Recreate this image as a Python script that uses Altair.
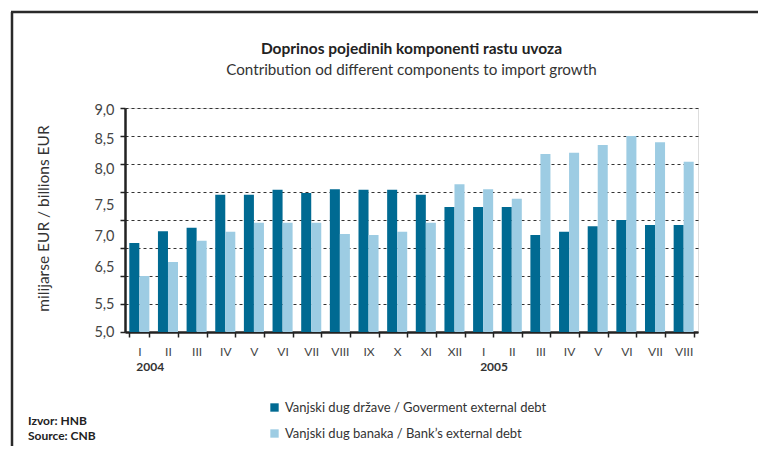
import altair as alt
import pandas as pd

months = ["I", "II", "III", "IV", "V", "VI", "VII", "VIII", "IX", "X", "XI", "XII",
          "I", "II", "III", "IV", "V", "VI", "VII", "VIII"]
years = [2004] * 12 + [2005] * 8
gov = [6.59, 6.80, 6.86, 7.45, 7.45, 7.54, 7.48, 7.55, 7.54, 7.54, 7.45, 7.23,
       7.23, 7.23, 6.73, 6.79, 6.89, 7.00, 6.91, 6.91]
bank = [6.00, 6.25, 6.63, 6.79, 6.95, 6.95, 6.95, 6.75, 6.73, 6.79, 6.95, 7.64,
        7.55, 7.38, 8.18, 8.20, 8.34, 8.50, 8.39, 8.04]
series = ["Vanjski dug države / Goverment external debt",
          "Vanjski dug banaka / Bank\u2019s external debt"]
colors = ["#006a92", "#9dcce3"]
y_ticks = [5.0, 5.5, 6.0, 6.5, 7.0, 7.5, 8.0, 8.5, 9.0]
year_labels = ["2004", "2005"]

cats = [f"{y}-{m}" for y, m in zip(years, months)]
rows = []
for i, c in enumerate(cats):
    rows.append({"cat": c, "series": series[0], "order": 0, "value": gov[i]})
    rows.append({"cat": c, "series": series[1], "order": 1, "value": bank[i]})
df = pd.DataFrame(rows)

FONT = "Lato"
W, H = 573, 224

x_enc = alt.X("cat:N", sort=cats, title=None,
              scale=alt.Scale(paddingInner=0.3, paddingOuter=0.15),
              axis=alt.Axis(labelExpr="split(datum.value, '-')[1]", labelAngle=0,
                            tickBand="extent", tickSize=5, tickColor="#222", tickWidth=1.5,
                            domainColor="#222", domainWidth=2.5, labelPadding=9,
                            labelFont=FONT, labelFontSize=12, labelColor="#444",
                            grid=False))

label_offset = {
    "condition": [
        {"test": "datum.value == 9", "value": 2},
        {"test": "datum.value == 8.5", "value": 3},
        {"test": "datum.value == 8", "value": 5},
        {"test": "datum.value == 7.5", "value": 13},
        {"test": "datum.value == 7", "value": 16},
        {"test": "datum.value == 6.5", "value": 19},
    ],
    "value": 0,
}

y_enc = alt.Y("value:Q", title="milijarse EUR / billions EUR",
              scale=alt.Scale(domain=[5, 9], zero=False, nice=False),
              axis=alt.Axis(values=y_ticks,
                            labelExpr="datum.value == 6 ? '' : replace(format(datum.value, '.1f'), '.', ',')",
                            labelOffset=label_offset,
                            grid=True, gridDash=[3, 3], gridColor="#333", gridWidth=1,
                            tickSize=5, tickColor="#222", tickWidth=1.5,
                            domainColor="#222", domainWidth=2.5, labelPadding=6,
                            labelFont=FONT, labelFontSize=14.5, labelColor="#444",
                            titleFont=FONT, titleFontSize=15.5, titleFontWeight="normal",
                            titleColor="#333", titleX=-74, titleY=110))

bars = alt.Chart(df).mark_bar().encode(
    x=x_enc,
    xOffset=alt.XOffset("series:N", sort=series, scale=alt.Scale(paddingInner=0)),
    y=y_enc,
    y2=alt.datum(5),
    color=alt.Color("series:N", sort=series,
                    scale=alt.Scale(domain=series, range=colors),
                    legend=alt.Legend(title=None, orient="none", legendX=143, legendY=293,
                                      symbolType="square", symbolSize=70, symbolStrokeWidth=0,
                                      labelFont=FONT, labelFontSize=13, labelColor="#333",
                                      labelLimit=0, rowPadding=12, labelOffset=4)),
)

year_df = pd.DataFrame({"cat": ["2004-I", "2005-I"], "label": year_labels})
year_text = alt.Chart(year_df).mark_text(
    align="left", baseline="middle", dx=-3, font=FONT, fontSize=12,
    fontWeight="bold", color="#333"
).encode(
    x=alt.X("cat:N", sort=cats),
    y=alt.value(259),
    text="label:N",
)

ann = alt.Chart(pd.DataFrame({"a": [0]})).mark_text(
    text=["Izvor: HNB", "Source: CNB"], align="left", baseline="middle",
    font=FONT, fontSize=12, fontWeight="bold", color="#222", lineHeight=15
).encode(x=alt.value(-97), y=alt.value(313))

frame_left = alt.Chart(pd.DataFrame({"a": [0]})).mark_rule(
    color="#2a2a2a", strokeWidth=2.5
).encode(x=alt.value(-113), y=alt.value(-96), y2=alt.value(340))

frame_top = alt.Chart(pd.DataFrame({"a": [0]})).mark_rule(
    color="#2a2a2a", strokeWidth=2.5
).encode(x=alt.value(-114), x2=alt.value(660), y=alt.value(-96))

chart = alt.layer(bars, year_text, ann, frame_left, frame_top).properties(
    width=W, height=H,
    title=alt.TitleParams(
        text="Doprinos pojedinih komponenti rastu uvoza",
        subtitle="Contribution od different components to import growth",
        anchor="middle", font=FONT, fontSize=15.5, fontWeight="bold", color="#222",
        subtitleFont=FONT, subtitleFontSize=15.2, subtitleColor="#333",
        subtitlePadding=5, offset=-67),
    padding={"left": 117, "top": 100, "right": 60, "bottom": 114},
    autosize=alt.AutoSizeParams(type="none"),
).configure_view(stroke="transparent").configure(background="white")

chart.save("out.html", embed_options={"renderer": "svg", "actions": False})
